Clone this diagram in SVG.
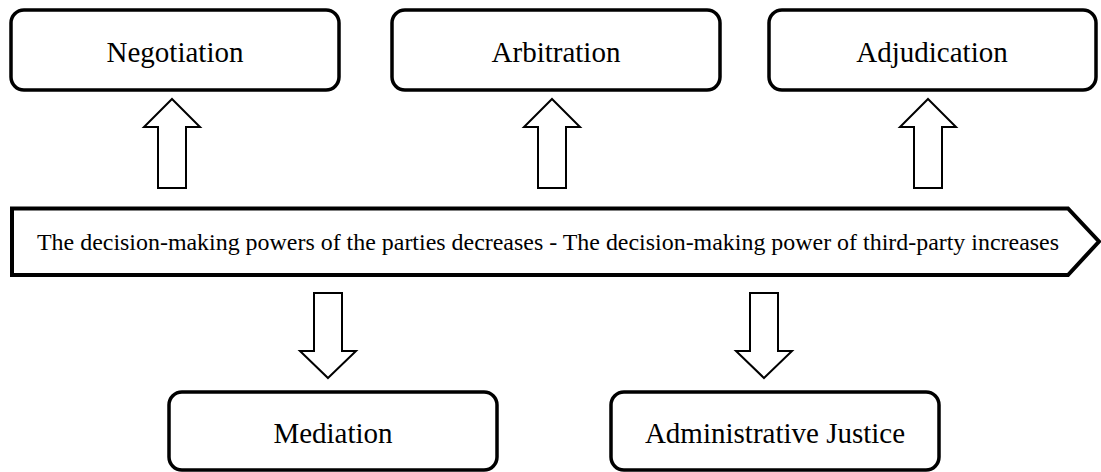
<svg xmlns="http://www.w3.org/2000/svg" width="1101" height="472" viewBox="0 0 1101 472">
  <style>
    .box { fill: #ffffff; stroke: #000000; stroke-width: 3.5; }
    .arrow { fill: #ffffff; stroke: #000000; stroke-width: 2; stroke-linejoin: miter; }
    .banner { fill: #ffffff; stroke: #000000; stroke-width: 4; stroke-linejoin: miter; }
    .label { font-family: "Liberation Serif", "Times New Roman", serif; font-size: 29px; fill: #000000; text-anchor: middle; }
    .scale { font-family: "Liberation Serif", "Times New Roman", serif; font-size: 23px; fill: #000000; }
  </style>
  <rect width="1101" height="472" fill="#ffffff"/>

  <!-- top row -->
  <g id="negotiation">
    <rect class="box" x="11" y="10" width="328" height="80" rx="13"/>
    <text class="label" x="175" y="62">Negotiation</text>
  </g>
  <g id="arbitration">
    <rect class="box" x="392" y="10" width="328" height="80" rx="13"/>
    <text class="label" x="556" y="62">Arbitration</text>
  </g>
  <g id="adjudication">
    <rect class="box" x="769" y="10" width="327" height="80" rx="13"/>
    <text class="label" x="932" y="62">Adjudication</text>
  </g>

  <!-- central scale banner -->
  <g id="scale">
    <path class="banner" d="M12,208.5 L1068,208.5 L1099,241.5 L1068,275 L12,275 Z"/>
    <text class="scale" x="37" y="250" textLength="1022" lengthAdjust="spacingAndGlyphs">The decision-making powers of the parties decreases - The decision-making power of third-party increases</text>
  </g>

  <!-- bottom row -->
  <g id="mediation">
    <rect class="box" x="169" y="392" width="328" height="78" rx="13"/>
    <text class="label" x="333" y="443">Mediation</text>
  </g>
  <g id="administrative-justice">
    <rect class="box" x="611" y="392" width="328" height="78" rx="13"/>
    <text class="label" x="775" y="443">Administrative Justice</text>
  </g>

  <!-- block arrows -->
  <g id="connectors">
    <path class="arrow" d="M172,99 L200,127 L186,127 L186,188 L158,188 L158,127 L144,127 Z"/>
    <path class="arrow" d="M552,99 L580,127 L566,127 L566,188 L538,188 L538,127 L524,127 Z"/>
    <path class="arrow" d="M928,99 L956,127 L942,127 L942,188 L914,188 L914,127 L900,127 Z"/>
    <path class="arrow" d="M328,378 L356,351 L342,351 L342,293 L314,293 L314,351 L300,351 Z"/>
    <path class="arrow" d="M764,378 L792,351 L778,351 L778,293 L750,293 L750,351 L736,351 Z"/>
  </g>
</svg>
